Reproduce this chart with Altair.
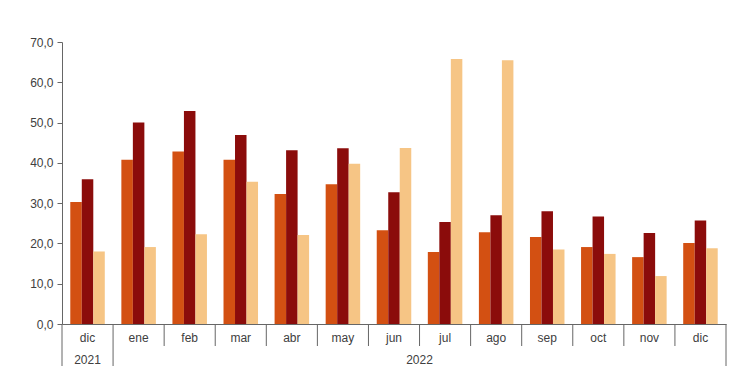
import altair as alt
import pandas as pd

months = ["dic", "ene", "feb", "mar", "abr", "may", "jun", "jul", "ago", "sep", "oct", "nov", "dic"]
years = ["2021"] + ["2022"] * 12
serie_a = [30.3, 40.8, 42.8, 40.8, 32.3, 34.7, 23.3, 17.9, 22.8, 21.6, 19.1, 16.6, 20.1]
serie_b = [35.9, 50.0, 52.9, 46.9, 43.1, 43.6, 32.7, 25.3, 27.0, 28.0, 26.7, 22.6, 25.7]
serie_c = [18.0, 19.1, 22.3, 35.3, 22.1, 39.8, 43.7, 65.8, 65.5, 18.5, 17.4, 11.9, 18.8]
series_names = ["Serie A", "Serie B", "Serie C"]
colors = ["#D35012", "#8B0C0B", "#F6C585"]
y_ticks = [0, 10, 20, 30, 40, 50, 60, 70]

keys = [f"{y}-{m}" for y, m in zip(years, months)]

rows = []
for i, k in enumerate(keys):
    for name, vals in zip(series_names, [serie_a, serie_b, serie_c]):
        rows.append({"key": k, "serie": name, "value": vals[i]})
df = pd.DataFrame(rows)

W, H = 664, 282
AX = "#666666"
TX = "#404040"
FONT = "Liberation Sans"

xscale = alt.Scale(paddingInner=0, paddingOuter=0)
xaxis = alt.Axis(labelExpr="split(datum.value, '-')[1]", ticks=False,
                 labelAngle=0, labelPadding=8, labelFontSize=12,
                 labelColor=TX, labelFont=FONT, domainColor=AX)

bars = alt.Chart(df).mark_bar().encode(
    x=alt.X("key:N", sort=keys, scale=xscale, title=None, axis=xaxis),
    xOffset=alt.XOffset("serie:N", sort=series_names,
                        scale=alt.Scale(paddingInner=0, paddingOuter=0.72)),
    y=alt.Y("value:Q", title=None,
            scale=alt.Scale(domain=[0, 70], nice=False),
            axis=alt.Axis(values=y_ticks, grid=False, tickSize=5,
                          labelExpr="replace(format(datum.value, '.1f'), '.', ',')",
                          labelFontSize=12, labelColor=TX, labelFont=FONT,
                          domainColor=AX, tickColor=AX, labelPadding=4)),
    color=alt.Color("serie:N", scale=alt.Scale(domain=series_names, range=colors), legend=None),
)

# short month dividers (start of each category within 2022, except the first)
short_df = pd.DataFrame({"key": keys[2:]})
short_rules = alt.Chart(short_df).mark_rule(color=AX, strokeWidth=1).encode(
    x=alt.X("key:N", sort=keys, bandPosition=0, title=None, axis=xaxis),
    y=alt.value(H), y2=alt.value(H + 22),
)

# long dividers (year boundaries)
long_df = pd.DataFrame({"key": [keys[0], keys[1]]})
long_rules = alt.Chart(long_df).mark_rule(color=AX, strokeWidth=1).encode(
    x=alt.X("key:N", sort=keys, bandPosition=0, title=None, axis=xaxis),
    y=alt.value(H), y2=alt.value(H + 42),
)
end_df = pd.DataFrame({"key": [keys[-1]]})
end_rule = alt.Chart(end_df).mark_rule(color=AX, strokeWidth=1).encode(
    x=alt.X("key:N", sort=keys, bandPosition=1, title=None, axis=xaxis),
    y=alt.value(H), y2=alt.value(H + 42),
)

# year labels
y2021 = alt.Chart(pd.DataFrame({"key": [keys[0]], "year": ["2021"]})).mark_text(
    fontSize=12, color=TX, font=FONT, baseline="middle").encode(
    x=alt.X("key:N", sort=keys, bandPosition=0.5, title=None, axis=xaxis),
    y=alt.value(H + 36), text="year:N",
)
y2022 = alt.Chart(pd.DataFrame({"key": [keys[7]], "year": ["2022"]})).mark_text(
    fontSize=12, color=TX, font=FONT, baseline="middle").encode(
    x=alt.X("key:N", sort=keys, bandPosition=0, title=None, axis=xaxis),
    y=alt.value(H + 36), text="year:N",
)

chart = alt.layer(bars, short_rules, long_rules, end_rule, y2021, y2022).properties(
    width=W, height=H,
    background="white",
    autosize=alt.AutoSizeParams(type="none"),
    padding={"left": 54, "top": 34, "right": 16, "bottom": 55},
).configure_view(stroke=None)

chart.save("out.html", embed_options={"renderer": "svg", "actions": False})
